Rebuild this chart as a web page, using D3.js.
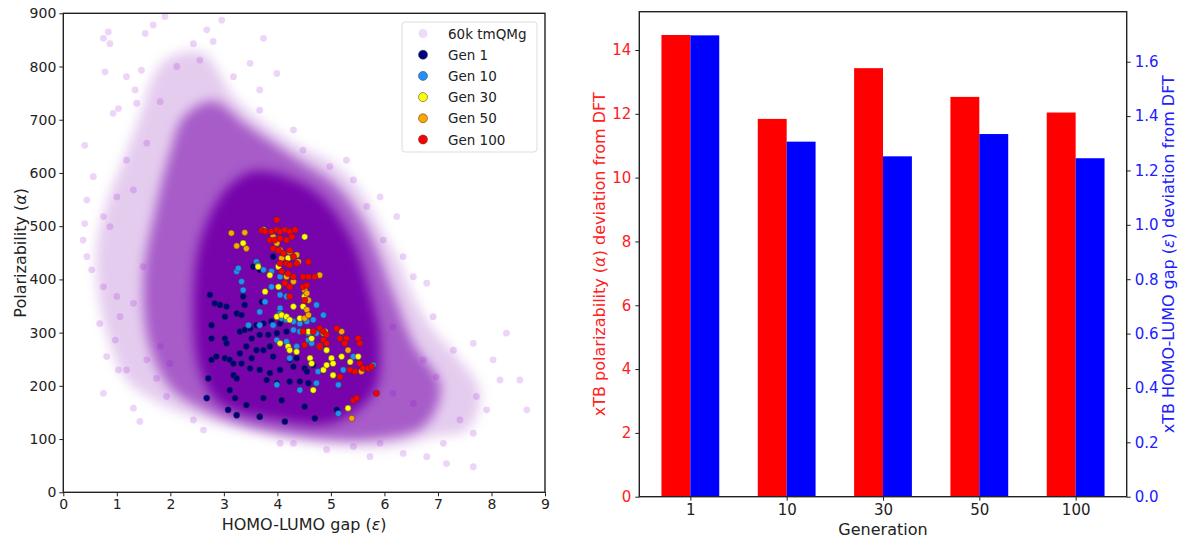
<!DOCTYPE html>
<html>
<head>
<meta charset="utf-8">
<script src="https://cdn.jsdelivr.net/npm/d3@7"></script>
<style>
    body { margin: 0; background: #fff; }
    text { font-family: "DejaVu Sans", sans-serif; }
</style>
</head>
<body>
<svg id="chart" width="1178" height="540"></svg>
<script>
/*******************************************************************************
 * data
 *******************************************************************************/
// left panel: density outlines of the 60k tmQMg cloud, [gap, polarizability]
var cloudHalo = [
    [1.99, 818], [2.62, 825], [3.18, 743], [3.67, 699], [4.30, 656], [5.04, 618],
    [5.54, 568], [5.92, 499], [6.29, 430], [6.54, 368], [6.91, 305], [7.41, 249],
    [7.79, 186], [7.54, 117], [6.91, 105], [6.16, 86], [5.23, 86], [4.30, 98],
    [3.42, 117], [2.62, 136], [1.81, 167], [1.18, 211], [0.87, 280], [0.68, 355],
    [0.62, 455], [0.81, 543], [1.12, 624], [1.43, 706], [1.68, 781]
];
var cloudMid = [
    [2.80, 735], [3.42, 690], [4.30, 630], [5.11, 575], [5.67, 495], [6.16, 374],
    [6.54, 280], [7.05, 198], [6.75, 125], [5.85, 100], [4.61, 102], [3.42, 123],
    [2.62, 155], [1.99, 198], [1.60, 280], [1.50, 405], [1.72, 530], [2.00, 640],
    [2.25, 705]
];
var cloudCore = [
    [3.67, 604], [4.67, 568], [5.36, 480], [5.73, 374], [5.92, 280], [5.79, 186],
    [5.04, 130], [3.99, 136], [2.93, 167], [2.55, 230], [2.43, 342], [2.55, 468],
    [2.93, 555], [3.30, 592]
];
// sparse outlying molecules of the cloud
var cloudOutliers = [
    [0.75, 853], [0.87, 843], [0.84, 865], [1.90, 894], [1.68, 878], [1.53, 862],
    [2.68, 869], [2.80, 847], [2.96, 887], [0.78, 790], [1.46, 793], [1.18, 781],
    [1.34, 756], [1.81, 734], [0.93, 712], [1.03, 721], [0.40, 652], [0.56, 593],
    [0.44, 549], [0.40, 505], [0.75, 518], [0.87, 499], [0.37, 474], [0.44, 443],
    [0.53, 418], [0.75, 386], [1.00, 368], [0.68, 317], [0.97, 286], [1.03, 230],
    [1.18, 230], [0.75, 186], [1.31, 158], [1.43, 133], [1.74, 214], [1.93, 180],
    [2.43, 136], [2.62, 117], [0.81, 255], [1.37, 731], [3.67, 756], [3.49, 806],
    [3.74, 853], [3.99, 787], [4.30, 681], [4.48, 643], [4.98, 612], [5.42, 587],
    [5.67, 537], [5.98, 474], [6.35, 443], [6.54, 405], [6.79, 393], [6.91, 330],
    [6.73, 249], [7.29, 267], [7.66, 280], [8.03, 249], [8.28, 299], [8.53, 211],
    [8.66, 155], [8.16, 211], [7.91, 155], [7.66, 111], [7.10, 92], [6.79, 67],
    [6.35, 73], [5.73, 67], [5.42, 86], [4.92, 80], [4.30, 92], [4.05, 92],
    [7.16, 54], [7.66, 48], [7.72, 180], [7.41, 136], [5.92, 92], [6.16, 186],
    [6.54, 167], [6.97, 217], [6.16, 311], [5.92, 555], [6.23, 518], [5.29, 624],
    [3.67, 718], [3.18, 781], [2.55, 812], [2.43, 843], [2.12, 800], [1.56, 656],
    [1.18, 624], [1.31, 568], [1.00, 555], [1.49, 424], [1.31, 355], [1.06, 330],
    [1.56, 249], [1.81, 274], [1.99, 242]
];

var gen1 = [
    [2.74, 371], [2.83, 355], [2.93, 352], [3.05, 349], [3.02, 330], [3.24, 336],
    [3.33, 333], [3.36, 368], [3.39, 352], [3.71, 358], [3.55, 424], [3.67, 418],
    [3.92, 443], [2.77, 314], [2.77, 289], [3.02, 289], [3.05, 280], [3.30, 302],
    [3.39, 305], [3.49, 308], [3.61, 314], [3.74, 317], [3.89, 321], [4.05, 317],
    [3.52, 289], [3.67, 296], [3.83, 296], [3.99, 299], [4.17, 302], [2.77, 249],
    [2.86, 255], [3.02, 252], [3.11, 249], [3.18, 242], [3.33, 242], [3.52, 252],
    [3.61, 267], [3.74, 267], [3.86, 274], [3.49, 233], [3.67, 230], [3.86, 224],
    [4.05, 230], [4.23, 249], [4.36, 252], [4.51, 233], [4.55, 227], [4.67, 239],
    [2.71, 214], [3.18, 220], [3.24, 214], [3.80, 211], [3.99, 205], [4.23, 208],
    [4.42, 208], [4.58, 205], [2.68, 177], [3.11, 192], [3.21, 177], [3.42, 164],
    [3.08, 155], [3.24, 145], [3.67, 142], [3.74, 177], [4.08, 173], [4.51, 161],
    [4.14, 133], [4.70, 139], [5.11, 155], [3.42, 274], [3.30, 261], [3.92, 255],
    [4.30, 236]
];
var gen10 = [
    [3.24, 415], [3.27, 421], [3.33, 396], [3.36, 380], [3.61, 433], [3.74, 418],
    [3.64, 427], [3.89, 415], [4.05, 405], [3.89, 386], [4.05, 371], [3.67, 339],
    [3.77, 358], [4.05, 346], [4.17, 368], [4.05, 336], [4.08, 327], [4.17, 324],
    [4.30, 321], [4.42, 317], [4.55, 321], [4.67, 324], [4.30, 305], [4.42, 302],
    [4.58, 299], [4.73, 299], [4.86, 333], [3.46, 314], [3.67, 314], [3.92, 314],
    [3.99, 286], [4.17, 283], [4.23, 252], [4.36, 274], [4.58, 286], [4.64, 280],
    [4.76, 227], [4.73, 205], [4.42, 192], [3.99, 202], [5.14, 202], [5.23, 230],
    [5.42, 255], [5.79, 239], [5.14, 148], [4.30, 349], [4.73, 352]
];
var gen30 = [
    [3.74, 493], [4.51, 480], [3.36, 468], [3.64, 424], [3.86, 408], [4.02, 424],
    [4.02, 386], [4.20, 440], [4.30, 443], [3.77, 377], [4.30, 349], [4.48, 349],
    [4.51, 368], [3.99, 330], [4.08, 333], [4.17, 330], [4.23, 324], [4.42, 327],
    [4.58, 302], [4.64, 289], [4.89, 302], [4.05, 280], [4.20, 274], [4.23, 267],
    [4.36, 264], [4.61, 252], [4.79, 274], [4.92, 267], [5.01, 252], [5.20, 255],
    [4.64, 242], [4.86, 230], [4.92, 239], [5.04, 242], [5.04, 220], [4.67, 192],
    [5.32, 158], [5.36, 245], [5.51, 255]
];
var gen50 = [
    [3.14, 487], [3.39, 488], [3.24, 463], [3.42, 458], [3.92, 480], [3.99, 468],
    [4.05, 455], [4.08, 440], [4.23, 452], [4.36, 446], [4.17, 405], [4.30, 396],
    [4.79, 408], [4.51, 380], [4.55, 374], [4.58, 361], [4.55, 343], [4.51, 327],
    [4.58, 333], [4.86, 299], [5.20, 302], [5.32, 267], [5.57, 227], [5.39, 139],
    [4.39, 433]
];
var gen100 = [
    [3.99, 512], [3.71, 492], [3.77, 490], [3.89, 490], [3.99, 493], [4.05, 490],
    [4.14, 493], [4.23, 490], [4.33, 493], [3.86, 474], [3.95, 474], [4.05, 477],
    [4.17, 474], [4.27, 480], [3.92, 458], [4.02, 455], [4.11, 449], [4.23, 455],
    [4.30, 443], [4.05, 430], [4.17, 430], [4.23, 427], [4.36, 430], [4.58, 433],
    [4.08, 415], [4.20, 411], [4.30, 405], [4.48, 405], [4.58, 405], [4.70, 405],
    [4.14, 393], [4.23, 386], [4.48, 386], [4.55, 389], [4.23, 368], [4.51, 361],
    [4.79, 308], [4.86, 302], [4.92, 296], [4.86, 286], [4.92, 280], [5.11, 308],
    [5.17, 289], [5.29, 289], [5.51, 289], [5.54, 280], [5.26, 280], [4.51, 277],
    [4.79, 274], [5.17, 217], [5.36, 230], [5.45, 227], [5.54, 242], [5.60, 233],
    [5.70, 233], [5.76, 236], [5.42, 173], [5.48, 177], [5.85, 186], [4.48, 302],
    [4.67, 302]
];

var generationSets = [
    { label: "Gen 1", color: "#000080", points: gen1 },
    { label: "Gen 10", color: "#1e90ff", points: gen10 },
    { label: "Gen 30", color: "#ffff00", points: gen30 },
    { label: "Gen 50", color: "#ffa500", points: gen50 },
    { label: "Gen 100", color: "#ff0000", points: gen100 }
];

// right panel: xTB deviation from DFT per generation
var generations = ["1", "10", "30", "50", "100"];
var polarDeviation = [14.47, 11.84, 13.43, 12.53, 12.04];
var gapDeviation = [1.697, 1.306, 1.252, 1.334, 1.245];
var leftTicks = [0, 2, 4, 6, 8, 10, 12, 14];
var rightTicks = [0, 0.2, 0.4, 0.6, 0.8, 1.0, 1.2, 1.4, 1.6];

/*******************************************************************************
 * helpers
 *******************************************************************************/
var svg = d3.select("#chart");
var cloudColor = "rgb(118, 4, 170)";

function styleAxis(g, color) {
    g.select(".domain").remove();
    g.selectAll(".tick line").attr("stroke", "#222").attr("stroke-width", 1);
    g.selectAll(".tick text")
        .attr("fill", color || "#222")
        .style("font-size", "14px");
}

function drawFrame(x0, y0, x1, y1) {
    svg.append("rect")
        .attr("x", x0).attr("y", y0)
        .attr("width", x1 - x0).attr("height", y1 - y0)
        .attr("fill", "none")
        .attr("stroke", "#222")
        .attr("stroke-width", 1.4);
}

/*******************************************************************************
 * left panel: scatter
 *******************************************************************************/
function drawScatter() {
    var L = { x0: 63.3, x1: 545, y0: 13.3, y1: 492.3 };
    var x = d3.scaleLinear().domain([0, 9]).range([L.x0, L.x1]);
    var y = d3.scaleLinear().domain([0, 900]).range([L.y1, L.y0]);

    var defs = svg.append("defs");
    defs.append("clipPath").attr("id", "leftClip")
        .append("rect")
        .attr("x", L.x0).attr("y", L.y0)
        .attr("width", L.x1 - L.x0).attr("height", L.y1 - L.y0);
    defs.append("filter").attr("id", "soft")
        .attr("x", "-20%").attr("y", "-20%").attr("width", "140%").attr("height", "140%")
        .append("feGaussianBlur").attr("stdDeviation", 6);

    var plot = svg.append("g").attr("clip-path", "url(#leftClip)");

    // cloud density layers
    var outline = d3.line()
        .x(function(d) { return x(d[0]); })
        .y(function(d) { return y(d[1]); })
        .curve(d3.curveCatmullRomClosed);
    var layers = [
        { pts: cloudHalo, op: 0.2 },
        { pts: cloudMid, op: 0.55 },
        { pts: cloudCore, op: 0.97 }
    ];
    var cloud = plot.append("g").attr("filter", "url(#soft)");
    layers.forEach(function(l) {
        cloud.append("path")
            .attr("d", outline(l.pts))
            .attr("fill", cloudColor)
            .attr("fill-opacity", l.op);
    });

    plot.append("g").selectAll("circle")
        .data(cloudOutliers)
        .enter()
        .append("circle")
        .attr("cx", function(d) { return x(d[0]); })
        .attr("cy", function(d) { return y(d[1]); })
        .attr("r", 3.4)
        .attr("fill", "#9400d3")
        .attr("fill-opacity", 0.17);

    // generations, later ones on top
    generationSets.forEach(function(s) {
        plot.append("g").selectAll("circle")
            .data(s.points)
            .enter()
            .append("circle")
            .attr("cx", function(d) { return x(d[0]); })
            .attr("cy", function(d) { return y(d[1]); })
            .attr("r", 3.1)
            .attr("fill", s.color)
            .attr("stroke", "#333")
            .attr("stroke-width", 0.5);
    });

    // axes
    var gx = svg.append("g")
        .attr("transform", "translate(0," + L.y1 + ")")
        .call(d3.axisBottom(x).ticks(9).tickSize(4).tickPadding(3));
    styleAxis(gx);
    var gy = svg.append("g")
        .attr("transform", "translate(" + L.x0 + ",0)")
        .call(d3.axisLeft(y).tickValues(d3.range(0, 901, 100)).tickSize(4).tickPadding(3));
    styleAxis(gy);
    drawFrame(L.x0, L.y0, L.x1, L.y1);

    svg.append("text")
        .attr("x", (L.x0 + L.x1) / 2).attr("y", 530)
        .attr("text-anchor", "middle")
        .style("font-size", "16px").attr("fill", "#222")
        .html('HOMO-LUMO gap (<tspan font-style="italic">ε</tspan>)');
    svg.append("text")
        .attr("transform", "translate(26," + (L.y0 + L.y1) / 2 + ") rotate(-90)")
        .attr("text-anchor", "middle")
        .style("font-size", "16px").attr("fill", "#222")
        .html('Polarizability (<tspan font-style="italic">α</tspan>)');

    // legend
    var lg = svg.append("g").attr("transform", "translate(402,22)");
    lg.append("rect")
        .attr("width", 135).attr("height", 130).attr("rx", 3)
        .attr("fill", "#fff").attr("fill-opacity", 0.85)
        .attr("stroke", "#ddd");
    var entries = [{ label: "60k tmQMg", color: "#ecdcf5", edge: "none" }]
        .concat(generationSets.map(function(s) {
            return { label: s.label, color: s.color, edge: "#333" };
        }));
    entries.forEach(function(e, i) {
        var row = lg.append("g").attr("transform", "translate(0," + (11.5 + i * 21.2) + ")");
        row.append("circle")
            .attr("cx", 21).attr("cy", 0).attr("r", 4.5)
            .attr("fill", e.color)
            .attr("stroke", e.edge).attr("stroke-width", 0.5);
        row.append("text")
            .attr("x", 46).attr("y", 5)
            .style("font-size", "13.5px").attr("fill", "#222")
            .text(e.label);
    });
}

/*******************************************************************************
 * right panel: twin-axis bars
 *******************************************************************************/
function drawBars() {
    var R = { x0: 639.3, x1: 1126.7, y0: 11.7, y1: 496.7 };
    var x = d3.scaleLinear().domain([-0.53, 4.53]).range([R.x0, R.x1]);
    var yL = d3.scaleLinear().domain([0, 15.2]).range([R.y1, R.y0]);
    var yR = d3.scaleLinear().domain([0, 1.784]).range([R.y1, R.y0]);
    var w = 0.3;

    svg.append("g").selectAll("rect")
        .data(polarDeviation)
        .enter()
        .append("rect")
        .attr("x", function(d, i) { return x(i - w); })
        .attr("width", x(w) - x(0))
        .attr("y", function(d) { return yL(d); })
        .attr("height", function(d) { return yL(0) - yL(d); })
        .attr("fill", "#ff0000");

    svg.append("g").selectAll("rect")
        .data(gapDeviation)
        .enter()
        .append("rect")
        .attr("x", function(d, i) { return x(i); })
        .attr("width", x(w) - x(0))
        .attr("y", function(d) { return yR(d); })
        .attr("height", function(d) { return yR(0) - yR(d); })
        .attr("fill", "#0000ff");

    var gx = svg.append("g")
        .attr("transform", "translate(0," + R.y1 + ")")
        .call(d3.axisBottom(x)
            .tickValues(d3.range(generations.length))
            .tickFormat(function(i) { return generations[i]; })
            .tickSize(4).tickPadding(4));
    styleAxis(gx);
    gx.selectAll(".tick text").style("font-size", "15px");

    var gl = svg.append("g")
        .attr("transform", "translate(" + R.x0 + ",0)")
        .call(d3.axisLeft(yL).tickValues(leftTicks).tickSize(4).tickPadding(4));
    styleAxis(gl, "#ff2020");
    gl.selectAll(".tick text").style("font-size", "15px");

    var gr = svg.append("g")
        .attr("transform", "translate(" + R.x1 + ",0)")
        .call(d3.axisRight(yR).tickValues(rightTicks)
            .tickFormat(d3.format(".1f")).tickSize(4).tickPadding(4));
    styleAxis(gr, "#2020ff");
    gr.selectAll(".tick text").style("font-size", "15px");

    drawFrame(R.x0, R.y0, R.x1, R.y1);

    svg.append("text")
        .attr("x", (R.x0 + R.x1) / 2).attr("y", 535)
        .attr("text-anchor", "middle")
        .style("font-size", "16px").attr("fill", "#222")
        .text("Generation");
    svg.append("text")
        .attr("transform", "translate(605," + (R.y0 + R.y1) / 2 + ") rotate(-90)")
        .attr("text-anchor", "middle")
        .style("font-size", "16px").attr("fill", "#ff2020")
        .html('xTB polarizability (<tspan font-style="italic">α</tspan>) deviation from DFT');
    svg.append("text")
        .attr("transform", "translate(1174," + (R.y0 + R.y1) / 2 + ") rotate(-90)")
        .attr("text-anchor", "middle")
        .style("font-size", "16px").attr("fill", "#2020ff")
        .html('xTB HOMO-LUMO gap (<tspan font-style="italic">ε</tspan>) deviation from DFT');
}

drawScatter();
drawBars();
</script>
</body>
</html>
